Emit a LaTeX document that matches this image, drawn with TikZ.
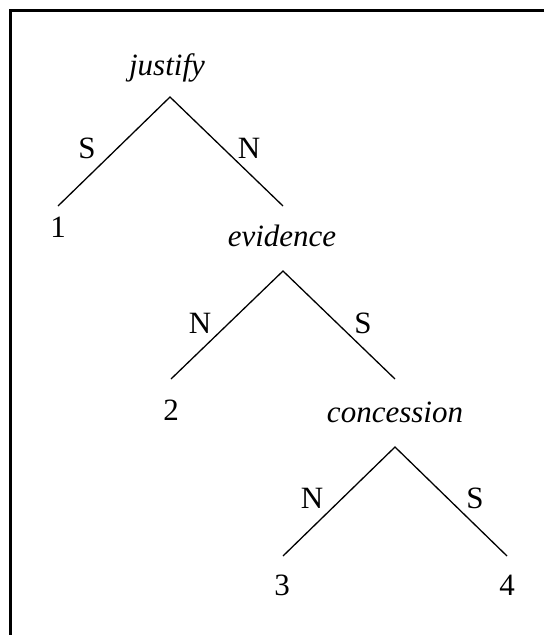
\documentclass[tikz,border=0pt]{standalone}
\usepackage{fontspec}
\setmainfont{Liberation Serif}
\begin{document}
\begin{tikzpicture}[x=1pt,y=-1pt,
  branch/.style={line width=1.3pt},
  frameline/.style={line width=2.2pt},
  lbl/.style={anchor=base,inner sep=0pt,font=\fontsize{31}{37}\selectfont},
  rel/.style={lbl,font=\fontsize{31}{37}\selectfont\itshape}]
\useasboundingbox (0,0) rectangle (544,635);
% frame (right and bottom sides lie outside the picture)
\coordinate (ftr) at (544,10.5);
\coordinate (ftl) at (10.5,10.5);
\coordinate (fbl) at (10.5,635);
\draw[frameline] (ftr) -- (ftl) -- (fbl);
% tree points
\coordinate (a1) at (170,97);
\coordinate (l1) at (58,206);
\coordinate (r1) at (283,206);
\coordinate (a2) at (283,271);
\coordinate (l2) at (171,379);
\coordinate (r2) at (395,379);
\coordinate (a3) at (395,447);
\coordinate (l3) at (283,556);
\coordinate (r3) at (507,556);
% relation names
\node[rel] (justify) at (167,75) {justify};
\node[rel] (evidence) at (282,246) {evidence};
\node[rel] (concession) at (395,422) {concession};
% leaves
\node[lbl] (n1) at (58,237) {1};
\node[lbl] (n2) at (171,420) {2};
\node[lbl] (n3) at (282,595) {3};
\node[lbl] (n4) at (507,595) {4};
% branches
\draw[branch] (l1) -- (a1) -- (r1);
\draw[branch] (l2) -- (a2) -- (r2);
\draw[branch] (l3) -- (a3) -- (r3);
% nuclearity labels
\node[lbl] (s1) at (87,158) {S};
\node[lbl] (m1) at (249,158) {N};
\node[lbl] (m2) at (200,333) {N};
\node[lbl] (s2) at (363,333) {S};
\node[lbl] (m3) at (312,508) {N};
\node[lbl] (s3) at (475,508) {S};
\end{tikzpicture}
\end{document}
